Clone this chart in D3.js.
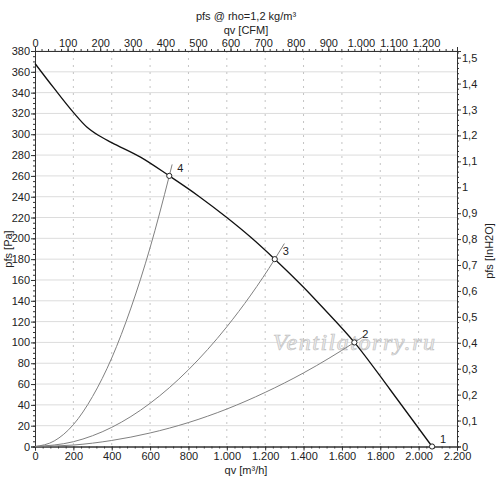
<!DOCTYPE html>
<html><head><meta charset="utf-8">
<script src="https://cdn.jsdelivr.net/npm/d3@7/dist/d3.min.js"></script>
<style>body{margin:0;background:#fff}svg{display:block;font-family:"Liberation Sans",Arial,sans-serif}</style>
</head><body><svg id="c" width="500" height="489"></svg>
<script>
// Fan curve (qv m3/h, pfs Pa)
const fanQ = [0,100,200,270,330,400,550,700,850,1000,1125,1250,1400,1500,1665,1850,2070];
const fanP = [368,344,321,307,299,292,278,260,241,220,201,180,153,133.5,100,55,0];
// System curves
const sys2Q = [0,200,400,600,800,1000,1200,1400,1665,1715];
const sys2P = [0,1.4,5.8,13,23,36,52,70.7,100,106];
const sys3Q = [0,200,400,600,800,1000,1250,1300];
const sys3P = [0,4.6,18.4,41.5,73.7,115,180,195];
const sys4Q = [0,100,200,300,400,500,600,700,715];
const sys4P = [0,5.3,21,48,85,133,191,260,271];
// Operating points
const ptLabels = ["1","2","3","4"];
const ptQ = [2070,1665,1250,700];
const ptP = [0,100,180,260];
// Axis ticks
const bottomTicks = [0,200,400,600,800,1000,1200,1400,1600,1800,2000,2200];
const bottomTickLabels = ["0","200","400","600","800","1.000","1.200","1.400","1.600","1.800","2.000","2.200"];
const topTicks = [0,100,200,300,400,500,600,700,800,900,1000,1100,1200];
const topTickLabels = ["0","100","200","300","400","500","600","700","800","900","1.000","1.100","1.200"];
const leftTicks = d3.range(0,381,20);
const rightTicks = [0,0.1,0.2,0.3,0.4,0.5,0.6,0.7,0.8,0.9,1,1.1,1.2,1.3,1.4,1.5];
const rightTickLabels = ["0","0,1","0,2","0,3","0,4","0,5","0,6","0,7","0,8","0,9","1","1,1","1,2","1,3","1,4","1,5"];

const W=500,H=489, L=35, R=457, T=51, B=446.5;
const svg = d3.select("#c");
const x = d3.scaleLinear().domain([0,2200]).range([L,R]);
const y = d3.scaleLinear().domain([0,380]).range([B,T]);
const xTop = d3.scaleLinear().domain([0,2200/1.69901]).range([L,R]);
const yR = d3.scaleLinear().domain([0,380/249.089]).range([B,T]);

// grid
const g = svg.append("g");
g.selectAll("line.h").data(leftTicks.slice(1)).enter().append("line")
 .attr("x1",L).attr("x2",R).attr("y1",d=>y(d)).attr("y2",d=>y(d))
 .attr("stroke","#dcdcdc").attr("stroke-width",1);
g.selectAll("line.v").data(bottomTicks.slice(1,-1)).enter().append("line")
 .attr("x1",d=>x(d)).attr("x2",d=>x(d)).attr("y1",T).attr("y2",B)
 .attr("stroke","#c4c4c4").attr("stroke-width",1).attr("stroke-dasharray","2,5");

// watermark
svg.append("text").attr("x",354).attr("y",350).attr("text-anchor","middle")
 .attr("font-family","'Liberation Serif','DejaVu Serif',serif").attr("font-style","italic")
 .attr("font-size",24).attr("textLength",162).attr("lengthAdjust","spacing")
 .attr("fill","#eeeeee").attr("stroke","#c2c2c2").attr("stroke-width",0.7)
 .text("Ventilatorry.ru");

// axes
function fmt(labels,ticks){return d=>labels[ticks.indexOf(d)];}
const axB = d3.axisBottom(x).tickValues(bottomTicks).tickFormat(fmt(bottomTickLabels,bottomTicks)).tickSize(4).tickPadding(2);
const axT = d3.axisTop(xTop).tickValues(topTicks).tickFormat(fmt(topTickLabels,topTicks)).tickSize(4).tickPadding(0);
const axL = d3.axisLeft(y).tickValues(leftTicks).tickSize(4).tickPadding(1);
const axR = d3.axisRight(yR).tickValues(rightTicks).tickFormat(fmt(rightTickLabels,rightTicks)).tickSize(4).tickPadding(1);
// minor ticks
const mB = d3.axisBottom(x).tickValues(d3.range(0,2201,40)).tickFormat("").tickSize(2);
const mT = d3.axisTop(xTop).tickValues(d3.range(0,1281,20)).tickFormat("").tickSize(2);
const mL = d3.axisLeft(y).tickValues(d3.range(0,381,5)).tickFormat("").tickSize(2);
const mR = d3.axisRight(yR).tickValues(d3.range(0,1.521,0.02)).tickFormat("").tickSize(2);
function put(ax,tr){const a=svg.append("g").attr("transform",tr).call(ax);
 a.selectAll("text").attr("font-size",11).attr("fill","#222").attr("font-family","'Liberation Sans',Arial,sans-serif");
 a.selectAll("path,line").attr("stroke","#333"); return a;}
put(mB,`translate(0,${B})`); put(mT,`translate(0,${T})`); put(mL,`translate(${L},0)`); put(mR,`translate(${R},0)`);
put(axB,`translate(0,${B})`); put(axT,`translate(0,${T})`); put(axL,`translate(${L},0)`); put(axR,`translate(${R},0)`);

// axis titles
const tf = s=>s.attr("font-size",11).attr("fill","#222").attr("text-anchor","middle");
tf(svg.append("text").attr("x",246).attr("y",20).text("pfs @ rho=1,2 kg/m³"));
tf(svg.append("text").attr("x",246).attr("y",34).text("qv [CFM]"));
tf(svg.append("text").attr("x",246).attr("y",474).text("qv [m³/h]"));
tf(svg.append("text").attr("transform","translate(12,249) rotate(-90)").text("pfs [Pa]"));
tf(svg.append("text").attr("transform","translate(493,251) rotate(-90)").text("pfs [InH2O]"));

// curves
const line = d3.line().x(d=>x(d[0])).y(d=>y(d[1])).curve(d3.curveMonotoneX);
svg.append("defs").append("clipPath").attr("id","pc").append("rect")
 .attr("x",L).attr("y",T).attr("width",R-L).attr("height",B-T);
const cg = svg.append("g").attr("clip-path","url(#pc)");
[[sys2Q,sys2P],[sys3Q,sys3P],[sys4Q,sys4P]].forEach(([q,p])=>{
 cg.append("path").datum(q.map((v,i)=>[v,p[i]])).attr("d",line)
  .attr("fill","none").attr("stroke","#808080").attr("stroke-width",1);
});
svg.append("path").datum(fanQ.map((v,i)=>[v,fanP[i]])).attr("d",line)
 .attr("fill","none").attr("stroke","#111").attr("stroke-width",1.3);

// points
ptQ.forEach((q,i)=>{
 svg.append("circle").attr("cx",x(q)).attr("cy",y(ptP[i])).attr("r",2.6)
  .attr("fill","#fff").attr("stroke","#222").attr("stroke-width",1);
 svg.append("text").attr("x",x(q)+11).attr("y",y(ptP[i])-4).attr("text-anchor","middle")
  .attr("font-size",11).attr("fill","#222").text(ptLabels[i]);
});
</script></body></html>
